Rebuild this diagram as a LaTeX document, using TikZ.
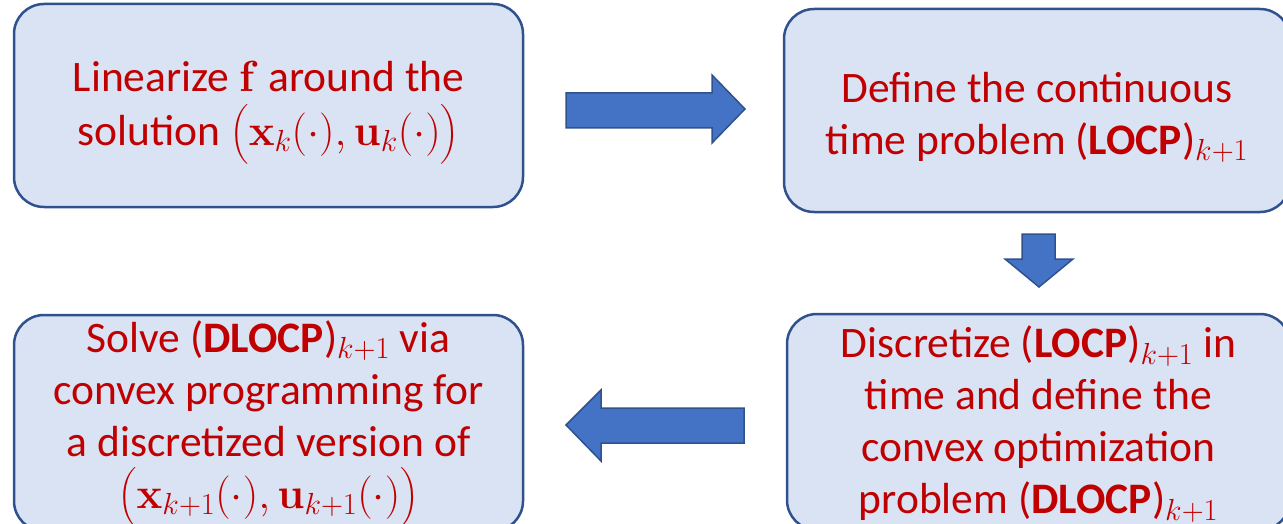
\documentclass[tikz,border=0pt]{standalone}
\usepackage{fix-cm}
\usepackage{amsmath}
\usepackage[no-math]{fontspec}
\setmainfont{Carlito}
\definecolor{boxfill}{HTML}{DAE3F3}
\definecolor{boxline}{HTML}{2F528F}
\definecolor{txt}{HTML}{C00000}
\definecolor{arrfill}{HTML}{4472C4}
\tikzset{
  stepbox/.style={draw=boxline, line width=2.5pt, fill=boxfill, rounded corners=30pt, inner sep=0pt},
  steptext/.style={text=txt, align=center, inner sep=0pt, font=\fontsize{43.5}{52}\selectfont},
  blockarrow/.style={draw=boxline, line width=1.5pt, fill=arrfill, line join=miter}
}
\begin{document}
\begin{tikzpicture}[x=1pt, y=-1pt]
\useasboundingbox (0,0) rectangle (1283,524);
\node[stepbox, minimum width=509pt, minimum height=203pt] (lin) at (268.5,105.5) {};
\node[steptext, font=\fontsize{43.5}{54}\selectfont] (linT) at ([yshift=-7pt]lin.center)
  {Linearize $\mathbf{f}$ around the\\ solution $\bigl(\mathbf{x}_k(\cdot),\mathbf{u}_k(\cdot)\bigr)$};
\node[stepbox, minimum width=506pt, minimum height=203pt] (def) at (1037,110.5) {};
\node[steptext] (defT) at ([yshift=-7pt]def.center)
  {Define the continuous\\ time problem (\textbf{LOCP})$_{k+1}$};
\node[stepbox, minimum width=503pt, minimum height=216pt] (dis) at (1038.5,422) {};
\node[steptext] (disT) at ([yshift=-2pt]dis.center)
  {Discretize (\textbf{LOCP})$_{k+1}$ in\\ time and define the\\ convex optimization\\ problem (\textbf{DLOCP})$_{k+1}$};
\node[stepbox, minimum width=509pt, minimum height=216pt] (sol) at (268.5,423) {};
\node[steptext] (solT) at ([yshift=-1pt]sol.center)
  {Solve (\textbf{DLOCP})$_{k+1}$ via\\ convex programming for\\ a discretized version of\\ $\bigl(\mathbf{x}_{k+1}(\cdot),\mathbf{u}_{k+1}(\cdot)\bigr)$};
% block arrows
\draw[blockarrow] (566,93) -- (712,93) -- (712,75) -- (745,109) -- (712,143) -- (712,128) -- (566,128) -- cycle;
\draw[blockarrow] (1022,234) -- (1055,234) -- (1055,259) -- (1073,259) -- (1039,287) -- (1005,259) -- (1022,259) -- cycle;
\draw[blockarrow] (744,408) -- (601,408) -- (601,390) -- (566,425) -- (601,461) -- (601,443) -- (744,443) -- cycle;
\end{tikzpicture}
\end{document}
